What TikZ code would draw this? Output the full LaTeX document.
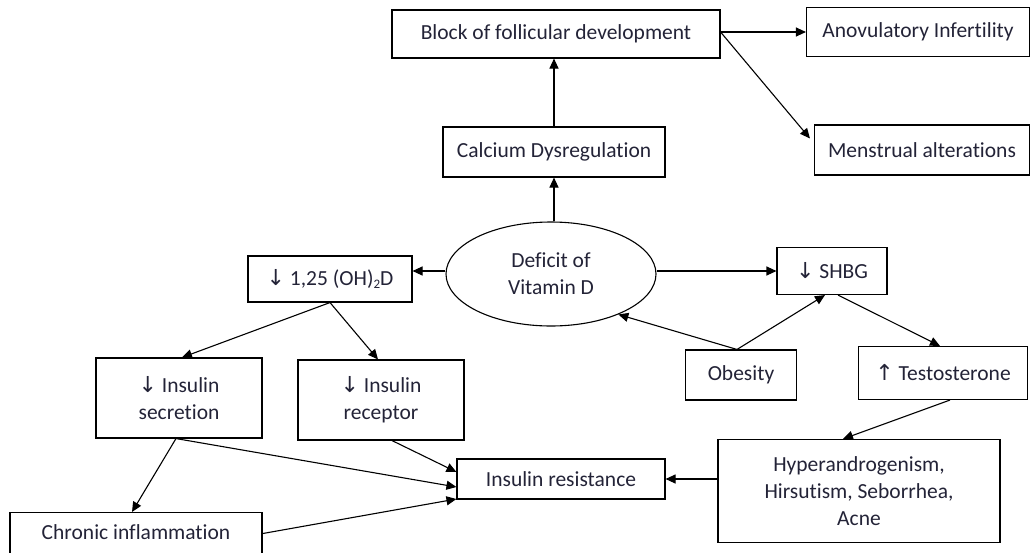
\documentclass[tikz,border=0pt]{standalone}
\usepackage{fontspec}
\setmainfont[Ligatures={NoCommon}]{Carlito}
\newfontfamily\symfont{DejaVu Sans}
\usetikzlibrary{shapes.geometric,arrows.meta,calc}
\definecolor{txt}{RGB}{35,35,55}
\newcommand{\dn}{{\symfont\fontsize{22}{20}\selectfont ↓}}
\newcommand{\up}{{\symfont\fontsize{22}{20}\selectfont ↑}}
\newcommand{\subtwo}{\raisebox{-2.5pt}{\fontsize{13}{14}\selectfont 2}}
\begin{document}
\begin{tikzpicture}[x=1pt,y=-1pt,
  every node/.style={text=txt,font=\fontsize{21.5}{27}\selectfont},
  box/.style={draw,line width=1.1pt,rectangle,align=center,inner sep=0pt},
  arr/.style={draw,line width=1.1pt,-{Triangle[length=10pt,width=9pt]}}]
\useasboundingbox (0,0) rectangle (1034,552);
\node[box,minimum width=328,minimum height=48] (block) at (556,34) {Block of follicular development};
\node[box,minimum width=223,minimum height=49] (anov) at (918,32) {Anovulatory Infertility};
\node[box,minimum width=215,minimum height=50] (mens) at (922,150) {Menstrual alterations};
\node[box,minimum width=222,minimum height=50] (calc) at (554,152) {Calcium Dysregulation};
\node[draw,line width=1.1pt,ellipse,minimum width=210,minimum height=104,align=center,inner sep=0pt] (ell) at (551,274) {Deficit of\\Vitamin D};
\node[box,minimum width=164,minimum height=46] (d125) at (330,279) {\dn\ 1,25 (OH)\subtwo D};
\node[box,minimum width=110,minimum height=47] (shbg) at (832,271) {\dn\ SHBG};
\node[box,minimum width=111,minimum height=50] (obes) at (741,375) {Obesity};
\node[box,minimum width=169,minimum height=53] (testo) at (943,373) {\up\ Testosterone};
\node[box,minimum width=166,minimum height=80] (isec) at (179,398) {\dn\ Insulin\\secretion};
\node[box,minimum width=166,minimum height=80] (irec) at (381,400) {\dn\ Insulin\\receptor};
\node[box,minimum width=208,minimum height=40] (ires) at (561,479) {Insulin resistance};
\node[box,minimum width=282,minimum height=103] (hyper) at (859,491) {Hyperandrogenism,\\Hirsutism, Seborrhea,\\Acne};
\node[box,minimum width=252,minimum height=56,anchor=north] (chron) at (136,512) {};
\node (chront) at (136,532) {Chronic inflammation};
% connectors
\draw[arr] (calc.north) -- (block.south -| calc.north);
\draw[arr] (ell.north -| calc.south) -- (calc.south);
\coordinate (bfork) at (block.east |- anov.west);
\draw[arr] (bfork) -- (anov.west);
\draw[arr] (bfork) -- ($(mens.north west)+(-4,14)$);
\draw[arr] (ell.west |- shbg.west) -- (ell.west |- shbg.west -| d125.east);
\draw[arr] (ell.east |- shbg.west) -- (shbg.west);
\coordinate (otop) at ($(obes.north)+(-4,0)$);
\draw[arr] (otop) -- (ell.-31);
\draw[arr] (otop) -- ($(shbg.south)+(-7,0)$);
\draw[arr] ($(shbg.south)+(6,0)$) -- ($(testo.north)+(-3,0)$);
\coordinate (dbot) at (d125.south);
\draw[arr] (dbot) -- ($(isec.north)+(3,0)$);
\draw[arr] (dbot) -- ($(irec.north)+(-3,0)$);
\draw[arr] ($(testo.south)+(7,0)$) -- ($(hyper.north)+(-16,0)$);
\draw[arr] (hyper.west |- ires.east) -- (ires.east);
\coordinate (sbot) at ($(isec.south)+(-3,0)$);
\draw[arr] (sbot) -- ($(chron.north)+(-4,0)$);
\draw[arr] (sbot) -- ($(ires.west)+(0,8)$);
\draw[arr] ($(irec.south)+(11,0)$) -- ($(ires.west)+(0,-7)$);
\draw[arr] ($(chron.east)+(0,-7)$) -- ($(ires.west)+(0,20)$);
\end{tikzpicture}
\end{document}
